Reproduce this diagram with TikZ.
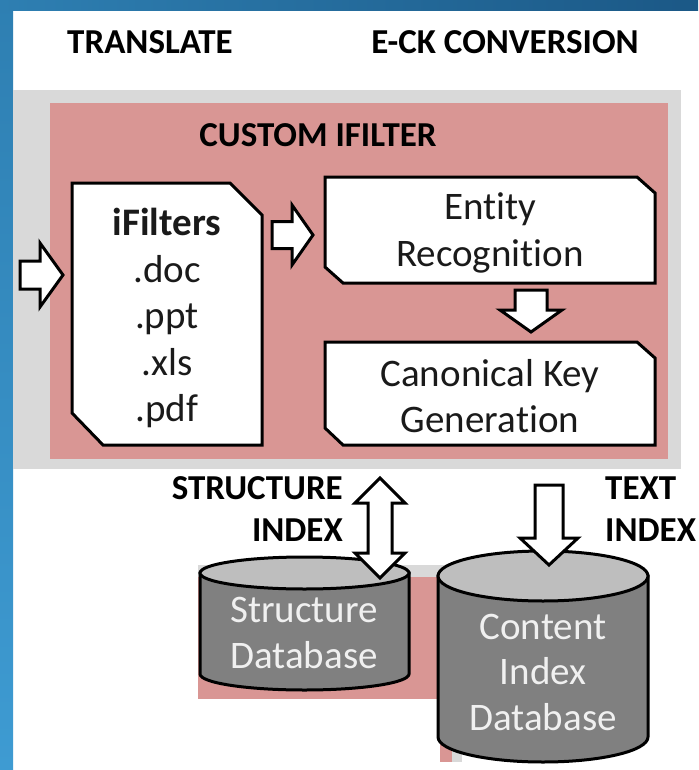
\documentclass[tikz,border=0pt]{standalone}
\usepackage{fontspec}
\setmainfont{Carlito}[Ligatures={NoCommon,NoContextual}]
\usetikzlibrary{shapes.geometric}
\definecolor{pinkfill}{HTML}{D99694}
\definecolor{grayframe}{HTML}{D9D9D9}
\definecolor{dbbody}{HTML}{808080}
\definecolor{dbtop}{HTML}{BEBEBE}
\definecolor{blueA}{HTML}{2E7FB2}
\definecolor{blueB}{HTML}{1B5886}
\definecolor{blueC}{HTML}{3E9BD2}
\definecolor{dbtext}{HTML}{F0F0F0}
\definecolor{boxtext}{HTML}{1A1A1A}
\tikzset{
  title/.style={font=\bfseries\fontsize{35}{41}\selectfont, text=black, inner sep=0pt},
  bodytext/.style={font=\fontsize{39}{46.5}\selectfont, text=boxtext, align=center, inner sep=0pt},
  dbtxt/.style={font=\fontsize{39}{45.5}\selectfont, text=dbtext, align=center, inner sep=0pt},
  docbox/.style={fill=white, draw=black, line width=3pt, line join=miter},
  blockarrow/.style={fill=white, draw=black, line width=3pt, line join=miter},
  dbshape/.style={fill=dbbody, draw=black, line width=3pt},
  dbcap/.style={fill=dbtop, draw=black, line width=3pt}
}
\begin{document}
\begin{tikzpicture}[x=1pt,y=-1pt]
\useasboundingbox (0,0) rectangle (698,770);
% background
\fill[white] (0,0) rectangle (698,770);
\shade[top color=blueA, bottom color=blueC] (0,0) rectangle (13,770);
\shade[left color=blueA, right color=blueB] (0,0) rectangle (698,11);

% titles
\node[title] (translate) at (150,42) {TRANSLATE};
\node[title] (eck) at (505,42) {E-CK CONVERSION};

% frames
\fill[grayframe] (13,90) rectangle (681,469);
\fill[pinkfill] (50,103) rectangle (668,459);
\node[title] (custom) at (318,135) {CUSTOM IFILTER};

% lower frames behind databases
\fill[grayframe] (198,565) rectangle (445,577);
\fill[pinkfill] (198,577) rectangle (445,699);
\fill[grayframe] (440,565) rectangle (462,762);
\fill[pinkfill] (440,577) rectangle (452,762);

% iFilters document
\draw[docbox] (72,183) -- (230,183) -- (262,215) -- (262,445) -- (103,445) -- (72,413) -- cycle;
\node[bodytext] (ifilters) at (167,318) {\textbf{iFilters}\\.doc\\.ppt\\.xls\\.pdf};

% Entity Recognition
\draw[docbox] (325,177) -- (637,177) -- (655,193) -- (655,283) -- (343,283) -- (325,267) -- cycle;
\node[bodytext] (entity) at (490,233) {Entity\\Recognition};

% Canonical Key Generation
\draw[docbox] (325,342) -- (637,342) -- (655,358) -- (655,445) -- (343,445) -- (325,428) -- cycle;
\node[bodytext] (canon) at (490,396) {Canonical Key\\Generation};

% labels
\node[title, align=right, anchor=east, font=\bfseries\fontsize{35}{42}\selectfont] (sidx) at (343,509) {STRUCTURE\\INDEX};
\node[title, align=left, anchor=west, font=\bfseries\fontsize{35}{42}\selectfont] (tidx) at (605,509) {TEXT\\INDEX};

% Structure database
\path[dbshape] (200,573) -- (200,674) arc[start angle=180, end angle=0, x radius=104.5, y radius=16] -- (409,573) -- cycle;
\draw[dbcap] (304.5,573) ellipse[x radius=104.5, y radius=16];
\node[dbtxt] (sdb) at (304,633) {Structure\\Database};

% Content database
\path[dbshape] (438,576) -- (438,737) arc[start angle=180, end angle=0, x radius=105, y radius=25] -- (648,576) -- cycle;
\draw[dbcap] (543,576) ellipse[x radius=105, y radius=25];
\node[dbtxt] (cdb) at (543,672) {Content\\Index\\Database};

% block arrows
\draw[blockarrow] (20,261) -- (40,261) -- (40,243) -- (63,275) -- (40,307) -- (40,289) -- (20,289) -- cycle;
\draw[blockarrow] (272,221.5) -- (292,221.5) -- (292,205) -- (313,235) -- (292,265) -- (292,248.5) -- (272,248.5) -- cycle;
\draw[blockarrow] (515,290) -- (547,290) -- (547,310) -- (562,310) -- (531,332) -- (500,310) -- (515,310) -- cycle;
\draw[blockarrow] (380,478) -- (405,503) -- (392,503) -- (392,553) -- (405,553) -- (380,578) -- (355,553) -- (368,553) -- (368,503) -- (355,503) -- cycle;
\draw[blockarrow] (535,485) -- (563,485) -- (563,538) -- (578,538) -- (549,565) -- (520,538) -- (535,538) -- cycle;
\end{tikzpicture}
\end{document}
